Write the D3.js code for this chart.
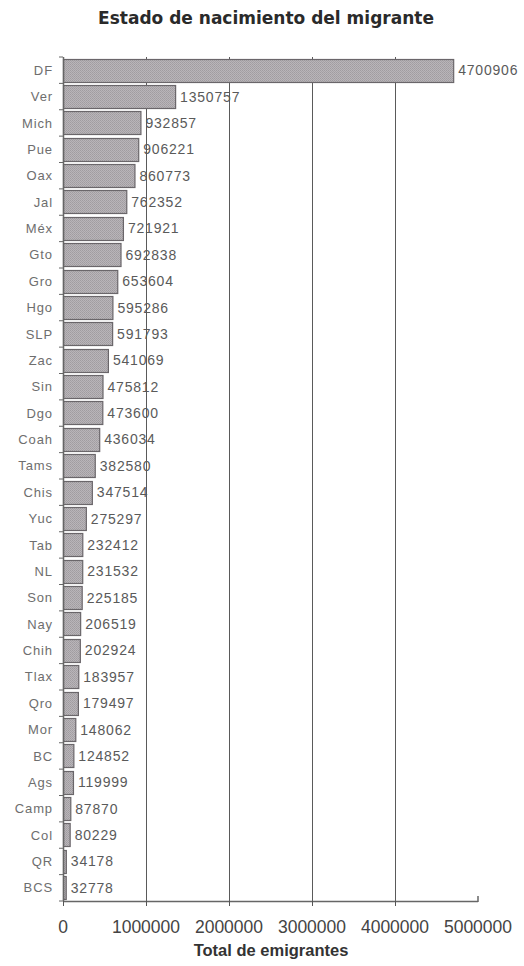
<!DOCTYPE html>
<html>
<head>
<meta charset="utf-8">
<script src="https://cdn.jsdelivr.net/npm/d3@7"></script>
<style>
  body { margin: 0; background: #fff; }
  text { font-family: "Liberation Sans", Arial, sans-serif; }
</style>
</head>
<body>
<div id="chart"></div>
<script>
// states, in chart order (top to bottom)
var estados = ["DF","Ver","Mich","Pue","Oax","Jal","Méx","Gto","Gro","Hgo","SLP","Zac","Sin","Dgo","Coah","Tams","Chis","Yuc","Tab","NL","Son","Nay","Chih","Tlax","Qro","Mor","BC","Ags","Camp","Col","QR","BCS"];
var emigrantes = [4700906,1350757,932857,906221,860773,762352,721921,692838,653604,595286,591793,541069,475812,473600,436034,382580,347514,275297,232412,231532,225185,206519,202924,183957,179497,148062,124852,119999,87870,80229,34178,32778];
var xTicks = [0,1000000,2000000,3000000,4000000,5000000];

var width = 524, height = 966;
var margin = {top: 57, left: 63, right: 45, bottom: 65};

var svg = d3.select('#chart').append('svg')
  .attr('width', width)
  .attr('height', height);

// dithered grey fill like the scanned bars
var pat = svg.append('defs').append('pattern')
  .attr('id', 'dots')
  .attr('width', 2).attr('height', 2)
  .attr('patternUnits', 'userSpaceOnUse');
pat.append('rect').attr('width', 2).attr('height', 2).attr('fill', '#b9b5b9');
pat.append('rect').attr('width', 1).attr('height', 1).attr('fill', '#a09ca0');
pat.append('rect').attr('x', 1).attr('y', 1).attr('width', 1).attr('height', 1).attr('fill', '#a6a2a6');

var x = d3.scaleLinear()
  .domain([0, 5000000])
  .range([margin.left, width - margin.right - 1]);

var y = d3.scaleBand()
  .domain(estados)
  .range([margin.top, height - margin.bottom])
  .paddingInner(0.12)
  .paddingOuter(0.06);

var x0 = x(0), yBottom = height - margin.bottom;

// title
svg.append('text')
  .attr('x', 266).attr('y', 24)
  .attr('text-anchor', 'middle')
  .style('font-family', '"DejaVu Sans", sans-serif')
  .style('font-weight', 'bold')
  .style('font-size', '17px')
  .style('fill', '#2a2a2a')
  .text('Estado de nacimiento del migrante');

// vertical grid lines
svg.append('g').selectAll('line')
  .data(xTicks.filter(function(d){ return d > 0 && d < 5000000; }))
  .enter().append('line')
  .attr('x1', function(d){ return Math.round(x(d)) + 0.5; })
  .attr('x2', function(d){ return Math.round(x(d)) + 0.5; })
  .attr('y1', margin.top).attr('y2', yBottom)
  .style('stroke', '#5a5a5a')
  .style('stroke-width', 1);

// bars
svg.append('g').selectAll('rect')
  .data(emigrantes)
  .enter().append('rect')
  .attr('x', x0 + 0.5)
  .attr('y', function(d, i){ return Math.round(y(estados[i])) + 0.5; })
  .attr('width', function(d){ return Math.max(x(d) - x0, 2); })
  .attr('height', Math.round(y.bandwidth()))
  .attr('fill', 'url(#dots)')
  .style('stroke', '#6a666a')
  .style('stroke-width', 1.2);

// value labels
svg.append('g').selectAll('text')
  .data(emigrantes)
  .enter().append('text')
  .attr('x', function(d){ return x(d) + 5; })
  .attr('y', function(d, i){ return y(estados[i]) + y.bandwidth() / 2; })
  .attr('dy', '0.36em')
  .style('font-size', '14px')
  .style('letter-spacing', '0.8px')
  .style('fill', '#5a5a5a')
  .text(function(d){ return d; });

// y axis
var yAxis = svg.append('g');
yAxis.append('line')
  .attr('x1', x0 + 0.5).attr('x2', x0 + 0.5)
  .attr('y1', margin.top).attr('y2', yBottom)
  .style('stroke', '#666').style('stroke-width', 1.5);
yAxis.selectAll('.tk')
  .data(d3.range(estados.length + 1))
  .enter().append('line')
  .attr('class', 'tk')
  .attr('x1', x0 - 4).attr('x2', x0)
  .attr('y1', function(i){ return margin.top + i * (yBottom - margin.top) / estados.length; })
  .attr('y2', function(i){ return margin.top + i * (yBottom - margin.top) / estados.length; })
  .style('stroke', '#666');
yAxis.selectAll('text')
  .data(estados)
  .enter().append('text')
  .attr('x', x0 - 10)
  .attr('y', function(d){ return y(d) + y.bandwidth() / 2; })
  .attr('dy', '0.36em')
  .attr('text-anchor', 'end')
  .style('font-size', '13px')
  .style('letter-spacing', '0.9px')
  .style('fill', '#6e6e6e')
  .text(function(d){ return d; });

// x axis
var xAxis = svg.append('g');
xAxis.append('line')
  .attr('x1', x0).attr('x2', x(5000000))
  .attr('y1', yBottom + 0.5).attr('y2', yBottom + 0.5)
  .style('stroke', '#666').style('stroke-width', 1.5);
xAxis.append('line')
  .attr('x1', x(5000000)).attr('x2', x(5000000))
  .attr('y1', yBottom - 5).attr('y2', yBottom + 1)
  .style('stroke', '#666').style('stroke-width', 1.5);
xAxis.selectAll('.tk')
  .data(xTicks.slice(0, -1))
  .enter().append('line')
  .attr('class', 'tk')
  .attr('x1', function(d){ return Math.round(x(d)) + 0.5; })
  .attr('x2', function(d){ return Math.round(x(d)) + 0.5; })
  .attr('y1', yBottom).attr('y2', yBottom + 5)
  .style('stroke', '#555');
xAxis.selectAll('text')
  .data(xTicks)
  .enter().append('text')
  .attr('x', function(d){ return x(d); })
  .attr('y', yBottom + 32)
  .attr('text-anchor', 'middle')
  .style('font-size', '17.5px')
  .style('fill', '#444')
  .text(function(d){ return d; });

svg.append('text')
  .attr('x', 271).attr('y', yBottom + 55)
  .attr('text-anchor', 'middle')
  .style('font-weight', 'bold')
  .style('font-size', '16.5px')
  .style('fill', '#333')
  .text('Total de emigrantes');
</script>
</body>
</html>
